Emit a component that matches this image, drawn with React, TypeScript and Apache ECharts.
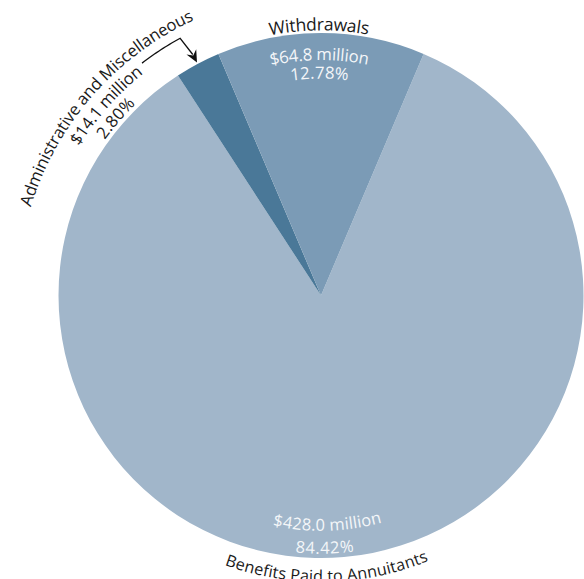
import React, { useEffect, useRef } from "react";
import * as echarts from "echarts";

// ---- data ----
const categories = ["Benefits Paid to Annuitants", "Administrative and Miscellaneous", "Withdrawals"];
const amounts = [428.0, 14.1, 64.8]; // $ millions
const amountLabels = ["$428.0 million", "$14.1 million", "$64.8 million"];
const percentLabels = ["84.42%", "2.80%", "12.78%"];
const sliceColors = ["#a1b6ca", "#4a7898", "#7b9bb6"];

// ---- layout ----
const W = 584;
const H = 579;
const CX = 321;
const CY = 295.5;
const R = 262.5;
const FONT_FAMILY = "'Open Sans', 'Noto Sans', sans-serif";
const DARK = "#1a1a1a";
const LIGHT = "#f4f6f9";

const DEG = Math.PI / 180;
const total = amounts.reduce((a, b) => a + b, 0);
// withdrawals slice centred on the top of the circle
const thetaStart = (amounts[2] / total) * 180; // clockwise from top
const startAngle = 90 - thetaStart;
const sliceMid = (() => {
  const mids: number[] = [];
  let acc = thetaStart;
  amounts.forEach((v) => {
    const span = (v / total) * 360;
    mids.push(acc + span / 2);
    acc += span;
  });
  return mids;
})();

let measureCtx: CanvasRenderingContext2D | null = null;
function measure(text: string, font: string) {
  if (!measureCtx) measureCtx = document.createElement("canvas").getContext("2d");
  measureCtx!.font = font;
  return measureCtx!.measureText(text).width;
}

function polar(r: number, thetaDeg: number) {
  const t = thetaDeg * DEG;
  return [CX + r * Math.sin(t), CY - r * Math.cos(t)];
}

function arcText(
  text: string,
  thetaC: number,
  rBase: number,
  fs: number,
  fill: string,
  inward: boolean,
  spacing = 0
) {
  const font = `${fs}px ${FONT_FAMILY}`;
  const chars = Array.from(text);
  const widths = chars.map((ch) => measure(ch, font) + spacing);
  const totalW = widths.reduce((a, b) => a + b, 0) - spacing;
  const k = 0.35 * fs;
  const r = inward ? rBase - k : rBase + k;
  const dir = inward ? -1 : 1;
  const start = thetaC * DEG - (dir * totalW) / (2 * r);
  let cum = 0;
  return chars.map((ch, i) => {
    const t = start + (dir * (cum + (widths[i] - spacing) / 2)) / r;
    cum += widths[i];
    return {
      type: "text",
      x: CX + r * Math.sin(t),
      y: CY - r * Math.cos(t),
      rotation: inward ? Math.PI - t : -t,
      silent: true,
      z: 100,
      style: {
        text: ch,
        fill,
        fontSize: fs,
        fontFamily: FONT_FAMILY,
        align: "center",
        verticalAlign: "middle",
        textAlign: "center",
        textVerticalAlign: "middle",
      },
    };
  });
}

export default function App() {
  const ref = useRef<HTMLDivElement>(null);
  useEffect(() => {
    if (!ref.current) return;
    const chart = echarts.init(ref.current, undefined, { renderer: "svg" });

    const wMid = sliceMid[2] > 180 ? sliceMid[2] - 360 : sliceMid[2];
    const aMid = sliceMid[1] - 360;

    const labels: any[] = [
      // Withdrawals
      ...arcText(categories[2], wMid - 0.4, 266, 17.5, DARK, false),
      ...arcText(amountLabels[2], wMid - 0.4, 236, 16.8, LIGHT, false),
      ...arcText(percentLabels[2], wMid - 0.4, 217.5, 16.8, LIGHT, false, 0.4),
      // Benefits
      ...arcText(amountLabels[0], 178.4, 234.5, 16.5, LIGHT, true),
      ...arcText(percentLabels[0], 179.2, 257.5, 16.5, LIGHT, true, 0.4),
      ...arcText(categories[0], 178.8, 286, 16.2, DARK, true),
      // Administrative
      ...arcText(categories[1], -48.9, 304, 16.7, DARK, false),
      ...arcText(amountLabels[1], -48.5, 285, 16.7, DARK, false),
      ...arcText(percentLabels[1], -49.2, 267, 16.7, DARK, false, 0.4),
    ];

    // leader arrow to admin slice
    const leaderPts: number[][] = [];
    for (let th = -37.6; th <= -28.7; th += 0.5) leaderPts.push(polar(293.3, th));
    leaderPts.push(polar(293.3, -28.7));
    const tipR = 264;
    const headLen = 12;
    leaderPts.push(polar(tipR + headLen - 3, aMid));
    const tip = polar(tipR, aMid);
    const base = polar(tipR + headLen, aMid);
    const tr = aMid * DEG;
    const tx = Math.cos(tr);
    const ty = Math.sin(tr);
    const hw = 5.5;
    const notch = polar(tipR + headLen - 4, aMid);
    const head = [
      tip,
      [base[0] + tx * hw, base[1] + ty * hw],
      notch,
      [base[0] - tx * hw, base[1] - ty * hw],
    ];

    chart.setOption({
      animation: false,
      backgroundColor: "#ffffff",
      series: [
        {
          type: "pie",
          center: [CX, CY],
          radius: R,
          startAngle,
          clockwise: true,
          silent: true,
          z: 1,
          label: { show: false },
          labelLine: { show: false },
          itemStyle: { borderWidth: 0 },
          data: categories.map((name, i) => ({
            name,
            value: amounts[i],
            itemStyle: { color: sliceColors[i] },
          })),
        },
      ],
      graphic: {
        elements: [
          ...labels,
          {
            type: "polyline",
            silent: true,
            z: 100,
            shape: { points: leaderPts },
            style: { stroke: "#111111", lineWidth: 1.3, fill: null },
          },
          {
            type: "polygon",
            silent: true,
            z: 100,
            shape: { points: head },
            style: { fill: "#111111" },
          },
        ],
      },
    });
    return () => chart.dispose();
  }, []);
  return (
    <div
      ref={ref}
      style={{ position: "fixed", left: 0, top: 0, width: W, height: H }}
    />
  );
}
